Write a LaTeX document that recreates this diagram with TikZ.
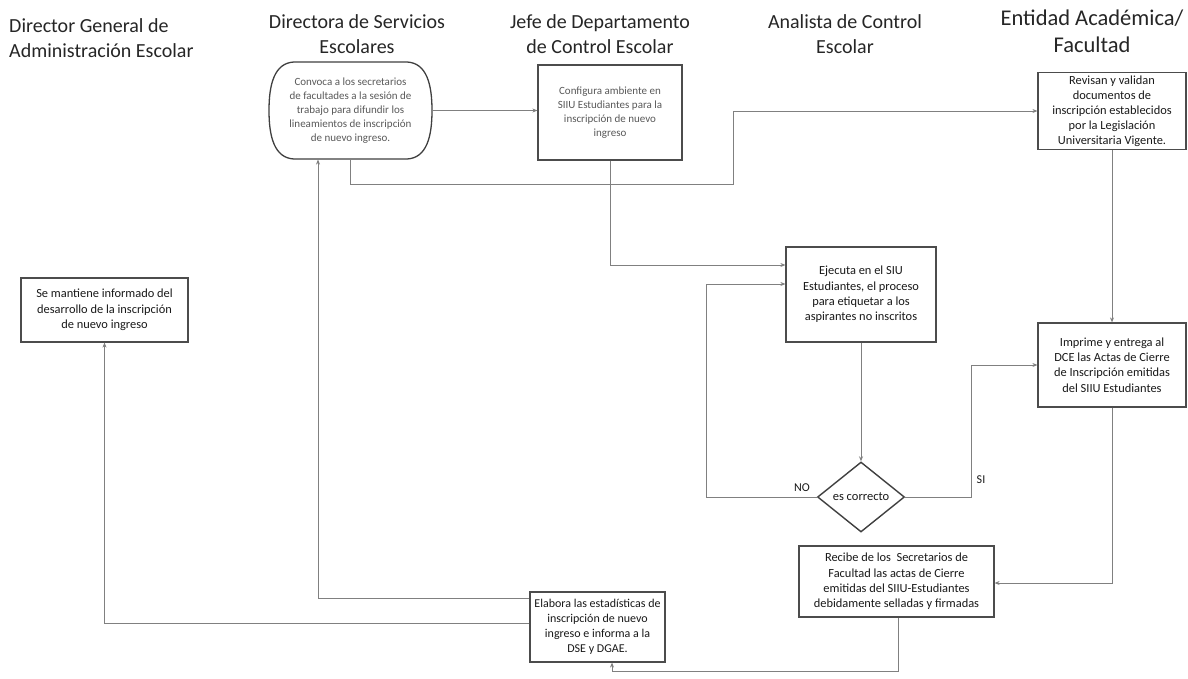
\documentclass[tikz,border=0pt]{standalone}
\usepackage{fontspec}
\setmainfont{Carlito}
\usetikzlibrary{shapes.geometric,arrows.meta}
\begin{document}
\begin{tikzpicture}[x=1pt,y=-1pt,
  hdr/.style={font=\fontsize{20}{24.5}\selectfont,align=center,text=black!85,inner sep=0pt},
  box/.style={draw=black!70,line width=1.2pt,align=center,inner sep=1pt,
    font=\fontsize{12.4}{15.3}\selectfont,text=black!90},
  lightbox/.style={box,font=\fontsize{11}{14}\selectfont,text=black!65},
  dec/.style={draw=black!75,line width=1.4pt,diamond,aspect=1.25,inner sep=0pt,
    minimum width=87pt,minimum height=70pt,font=\fontsize{12.5}{14}\selectfont,text=black!90},
  arr/.style={draw=black!50,line width=0.8pt,-{Stealth[length=5pt,width=4pt]}},
  lbl/.style={font=\fontsize{12}{14}\selectfont,text=black!90,inner sep=0pt},
  termline/.style={draw=black!75,line width=1.3pt}
]
\path[use as bounding box,fill=white] (0,0) rectangle (1188,679);

% headers
\node[hdr,anchor=west,align=left] (h1) at (9,38) {Director General de\\Administración Escolar};
\node[hdr] (h2) at (357,34) {Directora de Servicios\\Escolares};
\node[hdr] (h3) at (600,34) {Jefe de Departamento\\de Control Escolar};
\node[hdr] (h4) at (845,34) {Analista de Control\\Escolar};
\node[hdr,font=\fontsize{22.5}{27.5}\selectfont] (h5) at (1092,31.5) {Entidad Académica/\\Facultad};

% terminal shape (Convoca)
\draw[termline] (294,62) -- (407,62) .. controls (427,63) and (432,85) .. (432,110.5)
  .. controls (432,136) and (427,158) .. (407,159) -- (294,159)
  .. controls (274,158) and (269,136) .. (269,110.5)
  .. controls (269,85) and (274,63) .. (294,62) -- cycle;
\node[lightbox,draw=none,minimum width=163pt,minimum height=97pt] (convoca) at (350.5,110.5)
  {Convoca a los secretarios\\de facultades a la sesión de\\trabajo para difundir los\\lineamientos de inscripción\\de nuevo ingreso.};

% boxes
\node[lightbox,minimum width=144pt,minimum height=95pt] (configura) at (610,112.5)
  {Configura ambiente en\\SIIU Estudiantes para la\\inscripción de nuevo\\ingreso};
\node[box,minimum width=148pt,minimum height=77pt,font=\fontsize{12.4}{15}\selectfont] (revisan) at (1112,111)
  {Revisan y validan\\documentos de\\inscripción establecidos\\por la Legislación\\Universitaria Vigente.};
\node[box,minimum width=167pt,minimum height=64pt] (mantiene) at (104.5,310)
  {Se mantiene informado del\\desarrollo de la inscripción\\de nuevo ingreso};
\node[box,minimum width=150pt,minimum height=95pt] (ejecuta) at (861,294.5)
  {Ejecuta en el SIU\\Estudiantes, el proceso\\para etiquetar a los\\aspirantes no inscritos};
\node[box,minimum width=148pt,minimum height=84pt] (imprime) at (1112,365)
  {Imprime y entrega al\\DCE las Actas de Cierre\\de Inscripción emitidas\\del SIIU Estudiantes};
\node[dec] (dia) at (861,497) {es correcto};
\node[box,minimum width=195pt,minimum height=71pt] (recibe) at (896.5,581.5)
  {Recibe de los\ \ Secretarios de\\Facultad las actas de Cierre\\emitidas del SIIU-Estudiantes\\debidamente selladas y firmadas};
\node[box,minimum width=135pt,minimum height=70pt,font=\fontsize{12}{15}\selectfont] (elabora) at (597.5,627)
  {Elabora las estadísticas de\\inscripción de nuevo\\ingreso e informa a la\\DSE y DGAE.};

% labels
\node[lbl] (no) at (802,488) {NO};
\node[lbl] (si) at (981,480) {SI};

% connectors
\draw[arr] (convoca.east) -- (convoca.east -| configura.west);
\draw[arr] (convoca.south) |- (733,184) |- (revisan.west);
\draw[arr] (configura.south) |- ([yshift=29.5pt]ejecuta.west);
\draw[arr] (revisan.south) -- (imprime.north);
\draw[arr] (ejecuta.south) -- (dia.north);
\draw[arr] (dia.west) -| ([xshift=-79pt,yshift=10.5pt]ejecuta.west) -- ([yshift=10.5pt]ejecuta.west);
\draw[arr] (dia.east) -| ([xshift=-66pt]imprime.west) -- (imprime.west);
\draw[arr] (imprime.south) |- ([yshift=-1.5pt]recibe.east);
\draw[arr] ([xshift=1.5pt]recibe.south) -- ++(0,54) -| ([xshift=14.5pt]elabora.south);
\draw[arr] ([yshift=29pt]elabora.west) -| ([xshift=-32.5pt]convoca.south);
\draw[arr] ([yshift=4pt]elabora.west) -| (mantiene.south);
\end{tikzpicture}
\end{document}
